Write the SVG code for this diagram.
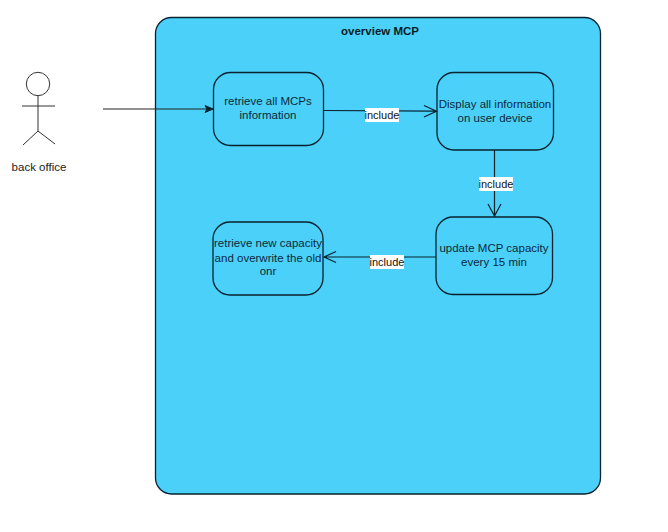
<svg xmlns="http://www.w3.org/2000/svg" width="668" height="532" viewBox="0 0 668 532">
<style>
text{font-family:"Liberation Sans",Arial,sans-serif;font-size:11.500px;fill:#0b2a3a;text-anchor:middle}
.box{fill:#4bd0f9;stroke:#08222e;stroke-width:1.3}
.ln{fill:none;stroke:#08222e;stroke-width:1.2}
.act{fill:none;stroke:#333;stroke-width:1}
.lab{fill:#fff}
.lt{fill:#111;font-size:11px}
</style>
<rect width="668" height="532" fill="#fff"/>
<g id="container">
<rect class="box" x="155.500" y="17.500" width="445" height="476.500" rx="16" ry="16"/>
<text x="380" y="35" style="font-weight:bold;fill:#0a1c26">overview MCP</text>
</g>
<g id="actor">
<circle class="act" cx="38" cy="84" r="11.700"/>
<path class="act" d="M38 96V131M22 106H55M38 131L23 145M38 131L55 144"/>
<text x="39" y="171" style="fill:#222">back office</text>
</g>
<g id="n1">
<rect class="box" x="213.500" y="72.500" width="110" height="73" rx="17" ry="17"/>
<text x="268" y="105">retrieve all MCPs</text>
<text x="268" y="119">information</text>
</g>
<g id="n2">
<rect class="box" x="437" y="72.500" width="116.500" height="77.500" rx="17" ry="17"/>
<text x="495" y="108">Display all information</text>
<text x="495" y="122">on user device</text>
</g>
<g id="n3">
<rect class="box" x="436" y="217" width="116.500" height="77.500" rx="17" ry="17"/>
<text x="494" y="252">update MCP capacity</text>
<text x="494" y="266">every 15 min</text>
</g>
<g id="n4">
<rect class="box" x="213" y="222" width="110" height="73" rx="17" ry="17"/>
<text x="268" y="247">retrieve new capacity</text>
<text x="268" y="262">and overwrite the old</text>
<text x="268" y="275">onr</text>
</g>
<g id="connectors">
<path class="ln" d="M103 109H209" style="stroke:#222"/>
<path d="M213 109L205 105.500L207 109L205 112.500Z" fill="#08222e" stroke="#08222e"/>
<path class="ln" d="M323.500 110.500L436 111.200M424 105.500L436.500 111.200L424 117"/>
<path class="ln" d="M494.500 150V216M488 204L494.500 216L501 204"/>
<path class="ln" d="M436 257H324M336 251.500L324 257L336 262.500"/>
<rect class="lab" x="365" y="108" width="34" height="14"/>
<text class="lt" x="382" y="118.500">include</text>
<rect class="lab" x="479" y="177" width="34" height="14"/>
<text class="lt" x="496" y="187.500">include</text>
<rect class="lab" x="370" y="255" width="34" height="14"/>
<text class="lt" x="387" y="266">include</text>
</g>
</svg>
